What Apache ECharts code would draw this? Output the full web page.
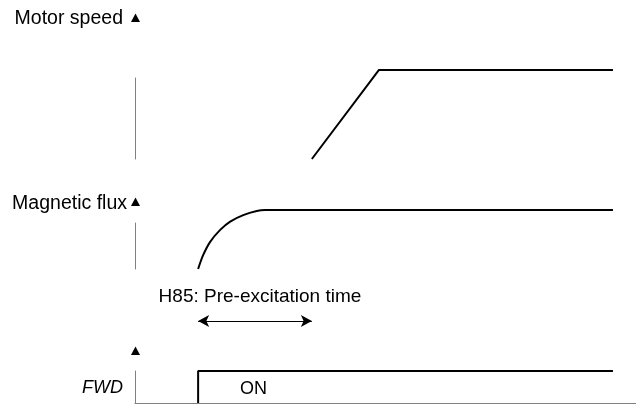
<!DOCTYPE html>
<html>
<head>
<meta charset="utf-8">
<script src="https://cdn.jsdelivr.net/npm/echarts@6/dist/echarts.min.js"></script>
<style>
  html, body { margin: 0; padding: 0; background: #fff; }
  #chart1 { width: 636px; height: 408px; }
</style>
</head>
<body>
<div id="chart1"></div>
<script>
// time axis 0..100 (arbitrary units)
var speedTime = [35.3, 48.7, 95.4];
var speedValue = [0, 1.1, 1.1];
var fluxTime = [12.6, 13.6, 15.0, 17.0, 19.0, 21.6, 24.3, 26.0, 95.4];
var fluxValue = [0, 0.30, 0.59, 0.85, 1.03, 1.17, 1.26, 1.28, 1.28];
var fwdTime = [12.6, 12.6, 95.4];
var fwdValue = [0, 1, 1];
var preExcitation = [12.6, 35.3];

var lineColor = '#000';
var axisColor = '#808080';
var font = 'Liberation Sans, Arial, sans-serif';

function pairs(xs, ys) {
    return xs.map(function(x, i) { return [x, ys[i]]; });
}

var grids = [
    { left: 135, right: 0, top: 78, height: 81 },
    { left: 135, right: 0, top: 223, height: 46 },
    { left: 135, right: 0, top: 371, height: 32 },
    { left: 135, right: 0, top: 311, height: 20 }
];

var xAxes = grids.map(function(g, i) {
    return {
        type: 'value', gridIndex: i, min: 0, max: 100,
        axisLine: { show: i === 2, lineStyle: { color: axisColor, width: 1 } },
        axisTick: { show: false }, axisLabel: { show: false }, splitLine: { show: false }
    };
});
var yAxes = grids.map(function(g, i) {
    return {
        type: 'value', gridIndex: i, min: 0, max: i === 3 ? 2 : 1,
        axisLine: { show: i !== 3, lineStyle: { color: axisColor, width: 1 } },
        axisTick: { show: false }, axisLabel: { show: false }, splitLine: { show: false }
    };
});

function triangle(cx, cy) {
    return {
        type: 'polygon',
        shape: { points: [[cx - 4.5, cy + 4], [cx + 4.5, cy + 4], [cx, cy - 4.5]] },
        style: { fill: '#000' }
    };
}
function text(str, x, y, align, size, italic) {
    return {
        type: 'text',
        style: {
            text: str, x: x, y: y,
            font: (italic ? 'italic ' : '') + size + 'px ' + font,
            fill: '#000',
            align: align, textAlign: align,
            verticalAlign: 'middle', textVerticalAlign: 'middle'
        }
    };
}

var option = {
    backgroundColor: '#fff',
    animation: false,
    grid: grids,
    xAxis: xAxes,
    yAxis: yAxes,
    graphic: [
        triangle(135.5, 18),
        triangle(135.5, 202),
        triangle(135.5, 351),
        text('Motor speed', 123, 19, 'right', 19.5),
        text('Magnetic flux', 127, 204, 'right', 19.5),
        text('FWD', 123, 388, 'right', 18, true),
        text('ON', 240, 389, 'left', 18)
    ],
    series: [{
        name: 'Motor speed',
        type: 'line', xAxisIndex: 0, yAxisIndex: 0,
        showSymbol: false, clip: false,
        lineStyle: { color: lineColor, width: 2 },
        data: pairs(speedTime, speedValue)
    }, {
        name: 'Magnetic flux',
        type: 'line', xAxisIndex: 1, yAxisIndex: 1,
        showSymbol: false, clip: false, smooth: 0.3,
        lineStyle: { color: lineColor, width: 2 },
        data: pairs(fluxTime, fluxValue)
    }, {
        name: 'FWD',
        type: 'line', xAxisIndex: 2, yAxisIndex: 2,
        showSymbol: false, clip: false,
        lineStyle: { color: lineColor, width: 2 },
        data: pairs(fwdTime, fwdValue)
    }, {
        name: 'H85',
        type: 'line', xAxisIndex: 3, yAxisIndex: 3,
        showSymbol: false, clip: false,
        lineStyle: { width: 0 },
        data: [[preExcitation[0], 1], [preExcitation[1], 1]],
        markLine: {
            silent: true,
            symbol: ['arrow', 'arrow'],
            symbolSize: [9, 11],
            lineStyle: { color: lineColor, width: 1, type: 'solid' },
            label: {
                show: true, position: 'middle', distance: 15, offset: [5, 0],
                formatter: 'H85: Pre-excitation time',
                color: '#000', fontSize: 19, fontFamily: font
            },
            data: [[{ coord: [preExcitation[0], 1] }, { coord: [preExcitation[1], 1] }]]
        }
    }]
};

var chart1 = echarts.init(document.getElementById('chart1'));
chart1.setOption(option);
window.onresize = function() {
    chart1.resize();
};
</script>
</body>
</html>
